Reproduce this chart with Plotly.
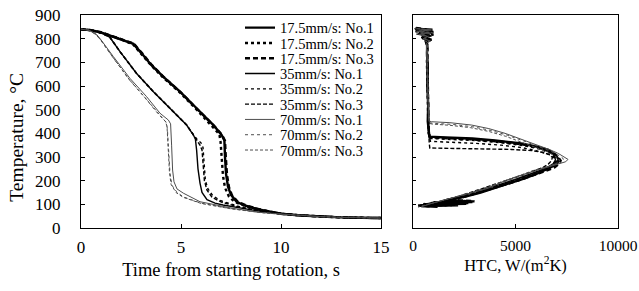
import plotly.graph_objects as go

FONT = "Liberation Serif"
W, H = 639, 291

# ---------------- data: temperature vs time ----------------
names = ["17.5mm/s: No.1", "17.5mm/s: No.2", "17.5mm/s: No.3",
         "35mm/s: No.1", "35mm/s: No.2", "35mm/s: No.3",
         "70mm/s: No.1", "70mm/s: No.2", "70mm/s: No.3"]

t_175_1 = [0, 0.5, 1.0, 1.5, 2.0, 2.62, 3.03, 3.5, 4.12, 4.95, 5.78, 6.62, 7.03, 7.17, 7.2, 7.25, 7.35, 7.5, 7.78, 8.2, 8.95, 10, 11, 12, 13, 14, 15]
T_175_1 = [840, 836, 826, 812, 798, 778, 738, 690, 639, 576, 506, 435, 393, 370, 300, 230, 175, 140, 111, 95, 77, 60, 53, 48, 45, 43, 42]
t_175_2 = [0, 0.5, 1.0, 1.5, 2.0, 2.6, 3.0, 3.5, 4.1, 4.95, 5.75, 6.6, 6.92, 6.98, 7.03, 7.1, 7.2, 7.4, 7.7, 8.2, 9.0, 10, 11, 12, 13, 14, 15]
T_175_2 = [840, 835, 825, 811, 797, 776, 738, 688, 636, 572, 503, 428, 396, 362, 300, 220, 170, 132, 110, 93, 76, 60, 53, 48, 45, 43, 42]
t_175_3 = [0, 0.5, 1.0, 1.5, 2.0, 2.64, 3.05, 3.55, 4.15, 5.0, 5.8, 6.65, 7.06, 7.2, 7.24, 7.3, 7.4, 7.55, 7.85, 8.3, 9.0, 10, 11, 12, 13, 14, 15]
T_175_3 = [840, 836, 827, 813, 799, 779, 739, 688, 637, 572, 503, 432, 392, 368, 300, 225, 172, 138, 110, 94, 77, 60, 53, 48, 45, 43, 42]

t_35_1 = [0, 0.5, 1.0, 1.45, 1.95, 2.78, 3.62, 4.45, 5.28, 5.62, 5.72, 5.78, 5.85, 5.95, 6.05, 6.3, 6.7, 7.1, 8, 9, 10, 11, 12, 13, 14, 15]
T_35_1 = [840, 836, 826, 805, 745, 653, 576, 506, 435, 393, 375, 330, 250, 190, 150, 120, 105, 97, 83, 70, 60, 53, 48, 45, 43, 42]
t_35_2 = [0, 0.5, 1.0, 1.45, 1.95, 2.78, 3.62, 4.45, 5.28, 5.62, 5.8, 6.0, 6.1, 6.15, 6.22, 6.35, 6.6, 7.0, 7.5, 8, 9, 10, 11, 12, 13, 14, 15]
T_35_2 = [840, 835, 825, 804, 744, 652, 575, 505, 434, 395, 375, 360, 340, 280, 200, 165, 135, 115, 100, 88, 72, 61, 53, 48, 45, 43, 42]
t_35_3 = [0, 0.5, 1.0, 1.45, 1.95, 2.78, 3.62, 4.45, 5.28, 5.62, 5.8, 5.95, 6.05, 6.1, 6.17, 6.3, 6.55, 7.0, 7.5, 8, 9, 10, 11, 12, 13, 14, 15]
T_35_3 = [840, 836, 826, 806, 746, 654, 577, 507, 436, 393, 372, 350, 330, 280, 200, 160, 130, 110, 97, 86, 71, 60, 53, 48, 45, 43, 42]

t_70_1 = [0, 0.4, 0.78, 1.0, 1.62, 2.45, 3.28, 3.95, 4.37, 4.48, 4.53, 4.58, 4.65, 4.8, 5.12, 5.95, 7.6, 8.95, 10, 11, 12, 13, 14, 15]
T_70_1 = [840, 836, 818, 795, 724, 632, 555, 485, 456, 440, 350, 245, 195, 165, 147, 111, 83, 66, 59, 53, 48, 45, 43, 42]
t_70_2 = [0, 0.4, 0.75, 1.0, 1.6, 2.4, 3.2, 3.9, 4.25, 4.32, 4.38, 4.45, 4.55, 4.78, 5.1, 6.0, 7.5, 9.0, 10, 11, 12, 13, 14, 15]
T_70_2 = [840, 835, 817, 792, 720, 628, 550, 478, 448, 420, 330, 230, 180, 153, 132, 105, 82, 66, 59, 53, 48, 45, 43, 42]
t_70_3 = [0, 0.4, 0.75, 1.0, 1.6, 2.4, 3.2, 3.9, 4.22, 4.3, 4.35, 4.42, 4.5, 4.75, 5.1, 6.0, 7.5, 9.0, 10, 11, 12, 13, 14, 15]
T_70_3 = [840, 836, 818, 793, 721, 629, 551, 479, 450, 430, 340, 240, 185, 150, 130, 104, 81, 65, 58, 52, 48, 45, 43, 42]

# ---------------- data: HTC vs temperature ----------------
hT_175_1 = [842, 838, 833, 828, 822, 815, 806, 796, 786, 776, 740, 680, 600, 520, 450, 400, 386, 383, 378, 370, 358, 345, 330, 310, 290, 275, 262, 248, 230, 210, 190, 170, 150, 135, 122, 114, 110, 106, 102, 99, 96, 93, 90]
h_175_1 = [100, 950, 200, 1000, 300, 800, 450, 900, 650, 700, 680, 720, 700, 740, 720, 760, 800, 1600, 2900, 4000, 5200, 6000, 6600, 6950, 7100, 7050, 6850, 6500, 6050, 5450, 4750, 4000, 3300, 2650, 2000, 1500, 2900, 900, 2600, 600, 2200, 400, 1200]
hT_175_2 = [840, 836, 831, 826, 820, 812, 802, 792, 782, 760, 700, 620, 540, 460, 400, 380, 377, 372, 362, 350, 335, 318, 298, 282, 268, 255, 240, 222, 200, 180, 160, 142, 128, 118, 112, 108, 104, 100, 97, 94, 91]
h_175_2 = [300, 700, 150, 900, 350, 850, 500, 750, 650, 700, 680, 700, 720, 740, 760, 850, 1800, 3000, 4300, 5400, 6200, 6700, 6900, 6950, 6850, 6650, 6300, 5750, 5050, 4350, 3600, 2900, 2250, 1700, 2800, 1100, 2400, 700, 1900, 300, 900]
hT_175_3 = [845, 839, 834, 829, 824, 817, 809, 799, 789, 770, 710, 640, 560, 480, 410, 383, 380, 375, 366, 354, 340, 323, 303, 285, 270, 256, 242, 226, 206, 186, 166, 146, 131, 120, 113, 109, 105, 101, 98, 95, 92]
h_175_3 = [150, 600, 250, 850, 400, 1000, 550, 700, 620, 690, 700, 710, 730, 750, 770, 820, 1700, 2800, 4100, 5300, 6100, 6700, 7050, 7200, 7100, 6900, 6500, 6000, 5300, 4600, 3850, 3100, 2450, 1850, 3000, 1000, 2700, 500, 2000, 250, 800]

hT_35_1 = [841, 837, 832, 827, 821, 814, 805, 795, 785, 750, 690, 610, 530, 460, 400, 384, 381, 376, 368, 356, 342, 326, 306, 288, 272, 258, 243, 225, 204, 184, 164, 145, 130, 119, 112, 107, 103, 99, 96, 93]
h_35_1 = [200, 800, 100, 950, 250, 750, 400, 800, 680, 690, 700, 720, 740, 750, 770, 830, 1700, 2900, 4200, 5300, 6100, 6600, 6900, 6950, 6850, 6600, 6200, 5650, 4950, 4250, 3500, 2800, 2150, 1600, 2500, 900, 2100, 500, 1500, 300]
hT_35_2 = [843, 838, 832, 826, 819, 811, 801, 791, 781, 740, 670, 590, 510, 440, 390, 366, 363, 358, 350, 340, 327, 312, 296, 282, 268, 254, 238, 220, 200, 180, 160, 140, 126, 116, 110, 105, 100, 96, 92]
h_35_2 = [250, 850, 300, 700, 200, 900, 500, 650, 700, 700, 710, 730, 740, 760, 790, 850, 1800, 3000, 4300, 5300, 6000, 6600, 6950, 7000, 6900, 6650, 6200, 5600, 4900, 4200, 3500, 2800, 2150, 1600, 2400, 900, 1800, 400, 1000]
hT_35_3 = [840, 835, 830, 825, 818, 810, 800, 790, 780, 730, 650, 560, 480, 410, 360, 338, 337, 335, 332, 327, 320, 310, 298, 284, 270, 256, 240, 222, 202, 182, 162, 142, 127, 117, 111, 106, 101, 97, 93]
h_35_3 = [100, 750, 200, 850, 350, 700, 450, 800, 660, 690, 700, 720, 750, 770, 790, 820, 2000, 3500, 4800, 5800, 6300, 6650, 6800, 6750, 6600, 6350, 5900, 5300, 4600, 3900, 3250, 2600, 2000, 1500, 2300, 800, 1700, 350, 900]

hT_70_1 = [842, 837, 831, 825, 818, 810, 800, 790, 780, 720, 640, 560, 490, 452, 449, 445, 435, 420, 400, 375, 351, 330, 315, 300, 290, 280, 266, 252, 238, 224, 200, 168, 150, 132, 118, 104, 97, 90]
h_70_1 = [50, 900, 200, 800, 300, 700, 500, 850, 650, 680, 700, 720, 740, 780, 910, 1800, 2860, 3700, 4490, 5300, 6110, 6700, 7090, 7400, 7560, 7450, 6930, 6300, 5800, 5300, 4500, 3670, 2900, 2050, 1500, 910, 600, 420]
hT_70_2 = [840, 835, 829, 823, 815, 806, 796, 786, 770, 700, 620, 540, 470, 445, 442, 438, 428, 412, 392, 368, 345, 325, 310, 296, 286, 276, 262, 248, 232, 216, 192, 162, 144, 128, 114, 102, 95, 89]
h_70_2 = [400, 700, 100, 900, 350, 800, 450, 700, 700, 690, 710, 730, 750, 800, 1000, 1900, 2900, 3800, 4600, 5400, 6150, 6700, 7050, 7300, 7350, 7200, 6700, 6100, 5600, 5100, 4300, 3400, 2700, 1900, 1300, 800, 500, 300]
hT_70_3 = [843, 838, 832, 826, 819, 811, 802, 792, 782, 710, 630, 550, 480, 442, 439, 434, 424, 408, 388, 364, 342, 322, 306, 293, 283, 272, 258, 244, 228, 212, 188, 160, 142, 126, 112, 100, 93, 88]
h_70_3 = [200, 800, 300, 950, 150, 750, 550, 800, 680, 700, 720, 740, 760, 790, 950, 1800, 2800, 3700, 4500, 5250, 6000, 6550, 6900, 7100, 7150, 7000, 6500, 5900, 5400, 4900, 4100, 3200, 2500, 1800, 1200, 700, 400, 250]

x_ticks_time = [0, 5, 10, 15]
x_ticks_htc = [0, 5000, 10000]
y_ticks = [0, 100, 200, 300, 400, 500, 600, 700, 800, 900]

time_data = [t_175_1, t_175_2, t_175_3, t_35_1, t_35_2, t_35_3, t_70_1, t_70_2, t_70_3]
temp_data = [T_175_1, T_175_2, T_175_3, T_35_1, T_35_2, T_35_3, T_70_1, T_70_2, T_70_3]
htcT_data = [hT_175_1, hT_175_2, hT_175_3, hT_35_1, hT_35_2, hT_35_3, hT_70_1, hT_70_2, hT_70_3]
htc_data = [h_175_1, h_175_2, h_175_3, h_35_1, h_35_2, h_35_3, h_70_1, h_70_2, h_70_3]

# ---------------- styles ----------------
colors = ["#000000"] * 6 + ["#4d4d4d"] * 3
widths = [2.4, 2.4, 2.4, 1.4, 1.4, 1.4, 1.0, 1.0, 1.0]
dashes = ["solid", "dot", "5px,3px", "solid", "dot", "4px,2px", "solid", "dot", "3px,2px"]

fig = go.Figure()
for i in range(9):
    leg = "legend" if i == 0 else f"legend{i + 1}"
    ln = dict(color=colors[i], width=widths[i], dash=dashes[i])
    fig.add_trace(go.Scatter(x=time_data[i], y=temp_data[i], mode="lines", name=names[i],
                             line=ln, xaxis="x", yaxis="y", legend=leg))
    fig.add_trace(go.Scatter(x=htc_data[i], y=htcT_data[i], mode="lines", name=names[i],
                             line=ln, xaxis="x2", yaxis="y2", showlegend=False))

axis_common = dict(showline=True, mirror=True, linecolor="black", linewidth=1,
                   showgrid=False, zeroline=False, ticks="inside", tickcolor="black",
                   automargin=False, ticklabeloverflow="allow", tickformat="d")


def px_x(p):   # page pixel -> paper fraction
    return p / W


def px_y(p):
    return 1 - p / H


ydom = [px_y(228), px_y(15)]
layout = dict(
    width=W, height=H,
    margin=dict(l=0, r=0, t=0, b=0),
    paper_bgcolor="white", plot_bgcolor="white",
    font=dict(family=FONT, color="black"),
    xaxis=dict(domain=[px_x(81), px_x(381)], range=[0, 15], tickvals=x_ticks_time, ticklen=4,
               anchor="y", ticklabelstandoff=4,
               tickfont=dict(family=FONT, size=17, color="black"),
               title=dict(text="Time from starting rotation, s", font=dict(family=FONT, size=18.5), standoff=6),
               **axis_common),
    yaxis=dict(domain=ydom, range=[0, 900], tickvals=y_ticks, ticklen=4, anchor="x",
               ticklabelstandoff=16,
               tickfont=dict(family=FONT, size=17, color="black"),
               **axis_common),
    xaxis2=dict(domain=[px_x(413), px_x(618)], range=[0, 10000], tickvals=x_ticks_htc, ticklen=4,
                anchor="y2", ticklabelstandoff=3,
                tickfont=dict(family=FONT, size=15.5, color="black"),
                title=dict(text="HTC, W/(m<sup>2</sup>K)", font=dict(family=FONT, size=16.5), standoff=6),
                **axis_common),
    yaxis2=dict(domain=ydom, range=[0, 900], tickvals=y_ticks, ticklen=3, anchor="x2",
                showticklabels=False, **axis_common),
    annotations=[dict(text="Temperature, °C", textangle=-90, showarrow=False,
                      xref="paper", yref="paper", x=px_x(15.7), y=px_y(137),
                      xanchor="center", yanchor="middle",
                      font=dict(family=FONT, size=19.5, color="black"))],
)

for i in range(9):
    key = "legend" if i == 0 else f"legend{i + 1}"
    yc = 27.7 + 15.3 * i
    layout[key] = dict(x=px_x(240), y=px_y(yc), xanchor="left", yanchor="middle",
                       bgcolor="rgba(0,0,0,0)", borderwidth=0, itemwidth=30,
                       font=dict(family=FONT, size=14.5, color="black"))

fig.update_layout(**layout)
fig.write_html("out.html", config=dict(displayModeBar=False),
               post_script="document.body.style.margin='0px';")
